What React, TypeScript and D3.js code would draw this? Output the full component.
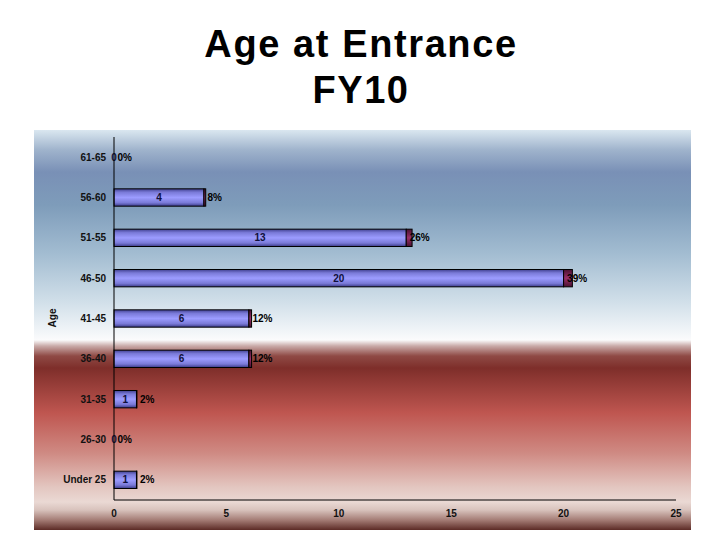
import { useEffect, useRef } from "react";
import * as d3 from "d3";

const categories = ["61-65", "56-60", "51-55", "46-50", "41-45", "36-40", "31-35", "26-30", "Under 25"];
const counts = [0, 4, 13, 20, 6, 6, 1, 0, 1];
const percents = [0, 8, 26, 39, 12, 12, 2, 0, 2];
const xTicks = [0, 5, 10, 15, 20, 25];

const App = () => {
  const ref = useRef<SVGSVGElement>(null);

  useEffect(() => {
    document.body.style.margin = "0";
    const svg = d3.select(ref.current);
    svg.selectAll("*").remove();
    const width = 720;
    const height = 540;
    svg.attr("width", width).attr("height", height);

    const defs = svg.append("defs");

    // panel background gradient
    const bg = defs
      .append("linearGradient")
      .attr("id", "bg")
      .attr("x1", 0)
      .attr("y1", 0)
      .attr("x2", 0)
      .attr("y2", 1);
    const bgStops: [number, string][] = [
      [130, "#dae7f0"],
      [150, "#9fb3cc"],
      [172, "#7990b6"],
      [205, "#7e9cba"],
      [253, "#a2bcd1"],
      [303, "#d2e0ea"],
      [333, "#f3f6f9"],
      [340, "#fbfbfc"],
      [346, "#c9aaa8"],
      [356, "#8f4a45"],
      [368, "#7e2e2a"],
      [413, "#bf5650"],
      [453, "#cf8a83"],
      [487, "#e3c6c0"],
      [502, "#ead9d4"],
      [510, "#d8c2bc"],
      [520, "#a47c75"],
      [530, "#5c2b26"],
    ];
    bgStops.forEach(([y, c]) =>
      bg
        .append("stop")
        .attr("offset", `${((y - 130) / 400) * 100}%`)
        .attr("stop-color", c)
    );

    const barGrad = defs
      .append("linearGradient")
      .attr("id", "barGrad")
      .attr("x1", 0)
      .attr("y1", 0)
      .attr("x2", 0)
      .attr("y2", 1);
    barGrad.append("stop").attr("offset", "0%").attr("stop-color", "#404090");
    barGrad.append("stop").attr("offset", "20%").attr("stop-color", "#7a7ad8");
    barGrad.append("stop").attr("offset", "50%").attr("stop-color", "#9c9cff");
    barGrad.append("stop").attr("offset", "80%").attr("stop-color", "#7a7ad8");
    barGrad.append("stop").attr("offset", "100%").attr("stop-color", "#3a3a88");

    const pctGrad = defs
      .append("linearGradient")
      .attr("id", "pctGrad")
      .attr("x1", 0)
      .attr("y1", 0)
      .attr("x2", 0)
      .attr("y2", 1);
    pctGrad.append("stop").attr("offset", "0%").attr("stop-color", "#4a1030");
    pctGrad.append("stop").attr("offset", "50%").attr("stop-color", "#98306a");
    pctGrad.append("stop").attr("offset", "100%").attr("stop-color", "#4a1030");

    // title
    const title = svg
      .append("text")
      .attr("text-anchor", "middle")
      .style("font-family", "Liberation Sans, Arial, sans-serif")
      .style("font-weight", "bold")
      .style("font-size", "38px")
      .style("letter-spacing", "1.6px")
      .attr("fill", "#000");
    title.append("tspan").attr("x", 361).attr("y", 57).text("Age at Entrance");
    title.append("tspan").attr("x", 361).attr("y", 103).text("FY10");

    svg
      .append("rect")
      .attr("x", 34)
      .attr("y", 130)
      .attr("width", 657)
      .attr("height", 400)
      .attr("fill", "url(#bg)");

    const x = d3.scaleLinear().domain([0, 25]).range([114, 676]);
    const y = d3
      .scaleBand<string>()
      .domain(categories)
      .range([137, 500])
      .paddingInner(0.57)
      .paddingOuter(0.285);

    const font = "Liberation Sans, Arial, sans-serif";

    // bars
    const rows = svg
      .append("g")
      .selectAll("g")
      .data(categories)
      .enter()
      .append("g");

    rows
      .append("rect")
      .attr("x", x(0))
      .attr("y", (d) => y(d)!)
      .attr("width", (d, i) => x(counts[i]) - x(0))
      .attr("height", y.bandwidth())
      .attr("fill", "url(#barGrad)")
      .attr("stroke", "#000")
      .attr("stroke-width", (d, i) => (counts[i] > 0 ? 1 : 0));

    rows
      .append("rect")
      .attr("x", (d, i) => x(counts[i]))
      .attr("y", (d) => y(d)!)
      .attr("width", (d, i) => x(counts[i] + percents[i] / 100) - x(counts[i]))
      .attr("height", y.bandwidth())
      .attr("fill", "url(#pctGrad)")
      .attr("stroke", "#000")
      .attr("stroke-width", (d, i) => (percents[i] > 0 ? 1 : 0));

    rows
      .append("text")
      .attr("x", (d, i) => x(counts[i] / 2))
      .attr("y", (d) => y(d)! + y.bandwidth() / 2 + 3.5)
      .attr("text-anchor", "middle")
      .style("font-family", font)
      .style("font-weight", "bold")
      .style("font-size", "10px")
      .attr("fill", "#10103a")
      .text((d, i) => counts[i]);

    rows
      .append("text")
      .attr("x", (d, i) => x(counts[i]) + 3.5)
      .attr("y", (d) => y(d)! + y.bandwidth() / 2 + 3.5)
      .style("font-family", font)
      .style("font-weight", "bold")
      .style("font-size", "10px")
      .attr("fill", "#000")
      .text((d, i) => `${percents[i]}%`);

    // axes
    svg
      .append("line")
      .attr("x1", x(0))
      .attr("x2", x(0))
      .attr("y1", 137)
      .attr("y2", 500)
      .attr("stroke", "#000");
    svg
      .append("line")
      .attr("x1", x(0))
      .attr("x2", x(25))
      .attr("y1", 500)
      .attr("y2", 500)
      .attr("stroke", "#000");

    svg
      .append("g")
      .selectAll("text")
      .data(categories)
      .enter()
      .append("text")
      .attr("x", 106)
      .attr("y", (d) => y(d)! + y.bandwidth() / 2 + 3.5)
      .attr("text-anchor", "end")
      .style("font-family", font)
      .style("font-weight", "bold")
      .style("font-size", "10px")
      .attr("fill", "#111")
      .text((d) => d);

    svg
      .append("g")
      .selectAll("text")
      .data(xTicks)
      .enter()
      .append("text")
      .attr("x", (d) => x(d))
      .attr("y", 517)
      .attr("text-anchor", "middle")
      .style("font-family", font)
      .style("font-weight", "bold")
      .style("font-size", "10px")
      .attr("fill", "#111")
      .text((d) => d);

    svg
      .append("text")
      .attr("transform", "translate(56,318) rotate(-90)")
      .attr("text-anchor", "middle")
      .style("font-family", font)
      .style("font-weight", "bold")
      .style("font-size", "10px")
      .attr("fill", "#111")
      .text("Age");
  }, []);

  return <svg ref={ref} style={{ display: "block" }}></svg>;
};

export default App;
